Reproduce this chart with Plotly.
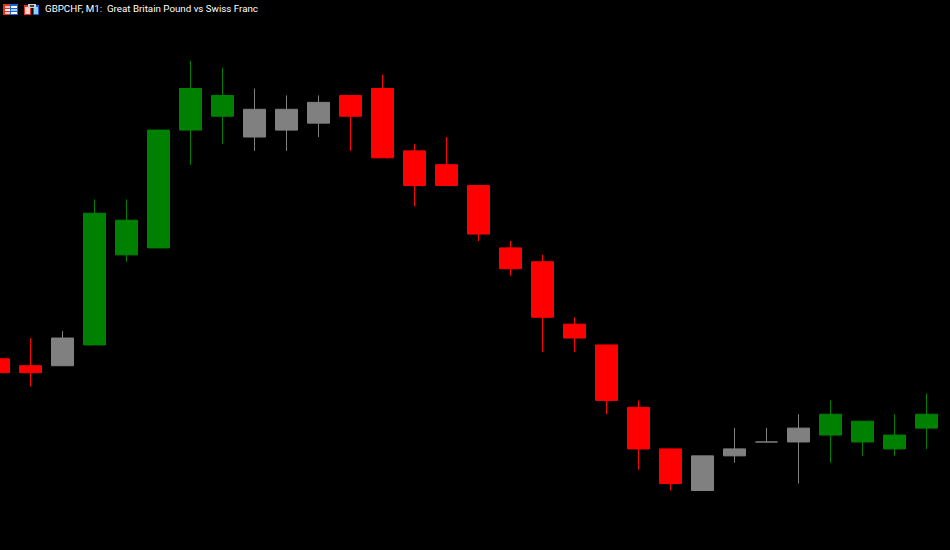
import plotly.graph_objects as go

BASE = 1.12100
POINT = 0.00001

# Candles, left to right; values are points below BASE
candle_index = list(range(30))
colour_class = ["red", "red", "gray", "green", "green", "green", "green", "green", "gray", "gray",
                "gray", "red", "red", "red", "red", "red", "red", "red", "red", "red",
                "red", "red", "gray", "gray", "gray", "gray", "green", "green", "green", "green"]
body_top = [23, 24, 20, 2, 3, -10, -16, -15, -13, -13,
            -14, -15, -16, -7, -5, -2, 7, 9, 18, 21,
            30, 36, 37, 36, 35, 33, 31, 32, 34, 31]
body_bottom = [25, 25, 24, 21, 8, 7, -10, -12, -9, -10,
               -11, -12, -6, -2, -2, 5, 10, 17, 20, 29,
               36, 41, 42, 37, 35, 35, 34, 35, 36, 33]
wick_top = [23, 20, 19, 0, 0, -10, -20, -19, -16, -15,
            -15, -15, -18, -8, -9, -2, 6, 8, 17, 21,
            29, 36, 37, 33, 33, 31, 29, 32, 31, 28]
wick_bottom = [25, 27, 24, 21, 9, 7, -5, -8, -7, -7,
               -9, -7, -6, 1, -2, 6, 11, 22, 22, 31,
               39, 42, 42, 38, 35, 41, 38, 37, 37, 36]
palette = {"red": "#ff0000", "green": "#008000", "gray": "#808080"}
title_text = "GBPCHF, M1:  Great Britain Pound vs Swiss Franc"


def price(k):
    return BASE - k * POINT


fig = go.Figure()
for name, colour in palette.items():
    idx = [i for i in candle_index if colour_class[i] == name]
    fig.add_trace(go.Bar(
        x=idx,
        y=[(body_bottom[i] - body_top[i]) * POINT for i in idx],
        base=[price(body_bottom[i]) for i in idx],
        width=22 / 32,
        marker=dict(color=colour, line=dict(color=colour, width=1)),
        error_y=dict(type="data", symmetric=False, color=colour, thickness=1, width=0,
                     array=[(body_top[i] - wick_top[i]) * POINT for i in idx],
                     arrayminus=[(wick_bottom[i] - body_top[i]) * POINT for i in idx]),
        showlegend=False, name=name,
    ))

PX_X = 32.0
PX_Y = 6.931
TOP = 199.4
fig.update_layout(
    width=950, height=550, autosize=False,
    margin=dict(l=0, r=0, t=0, b=0),
    paper_bgcolor="#000000", plot_bgcolor="#000000",
    showlegend=False, hovermode=False, barmode="overlay",
    font=dict(family="Roboto", color="#ffffff", size=10),
    xaxis=dict(range=[1.5 / PX_X, 951.5 / PX_X], visible=False, fixedrange=True),
    yaxis=dict(range=[price((550 - TOP) / PX_Y), price(-TOP / PX_Y)], visible=False, fixedrange=True),
    annotations=[dict(text=title_text, xref="paper", yref="paper", x=43 / 950, y=1 - 9 / 550,
                      xanchor="left", yanchor="middle", showarrow=False,
                      font=dict(size=9.75, color="#ffffff", family="Roboto"))],
)


def rect(x0, y0, x1, y1, c):
    return dict(type="rect", xref="paper", yref="paper", x0=x0 / 950, x1=x1 / 950,
                y0=1 - y0 / 550, y1=1 - y1 / 550, fillcolor=c, line=dict(width=0), layer="above")


fig.update_layout(shapes=[
    # list icon: red left half, blue right half
    rect(3, 4, 10, 15, "#e83020"), rect(10, 4, 18, 15, "#2060d0"),
    rect(5, 6, 10, 8, "#ffc0b0"), rect(5, 9, 10, 11, "#ffffff"), rect(5, 12, 10, 14, "#ffc0b0"),
    rect(11, 6, 17, 8, "#ffffff"), rect(11, 9, 17, 11, "#a0d0ff"), rect(11, 12, 17, 14, "#ffffff"),
    # save icon: red left half, blue right half, grey tab
    rect(24, 5, 31, 15, "#e83020"), rect(33, 5, 39, 15, "#2060d0"),
    rect(25, 7, 30, 14, "#ffd0c8"), rect(34, 7, 38, 14, "#90d0ff"),
    rect(28, 4, 36, 8, "#d0d0d0"), rect(30, 5, 34, 7, "#404040"),
])

fig.write_html(
    "out.html",
    config={"displayModeBar": False},
    post_script="document.body.style.margin='0';document.body.style.background='#000';"
                "document.documentElement.style.overflow='hidden';",
)
